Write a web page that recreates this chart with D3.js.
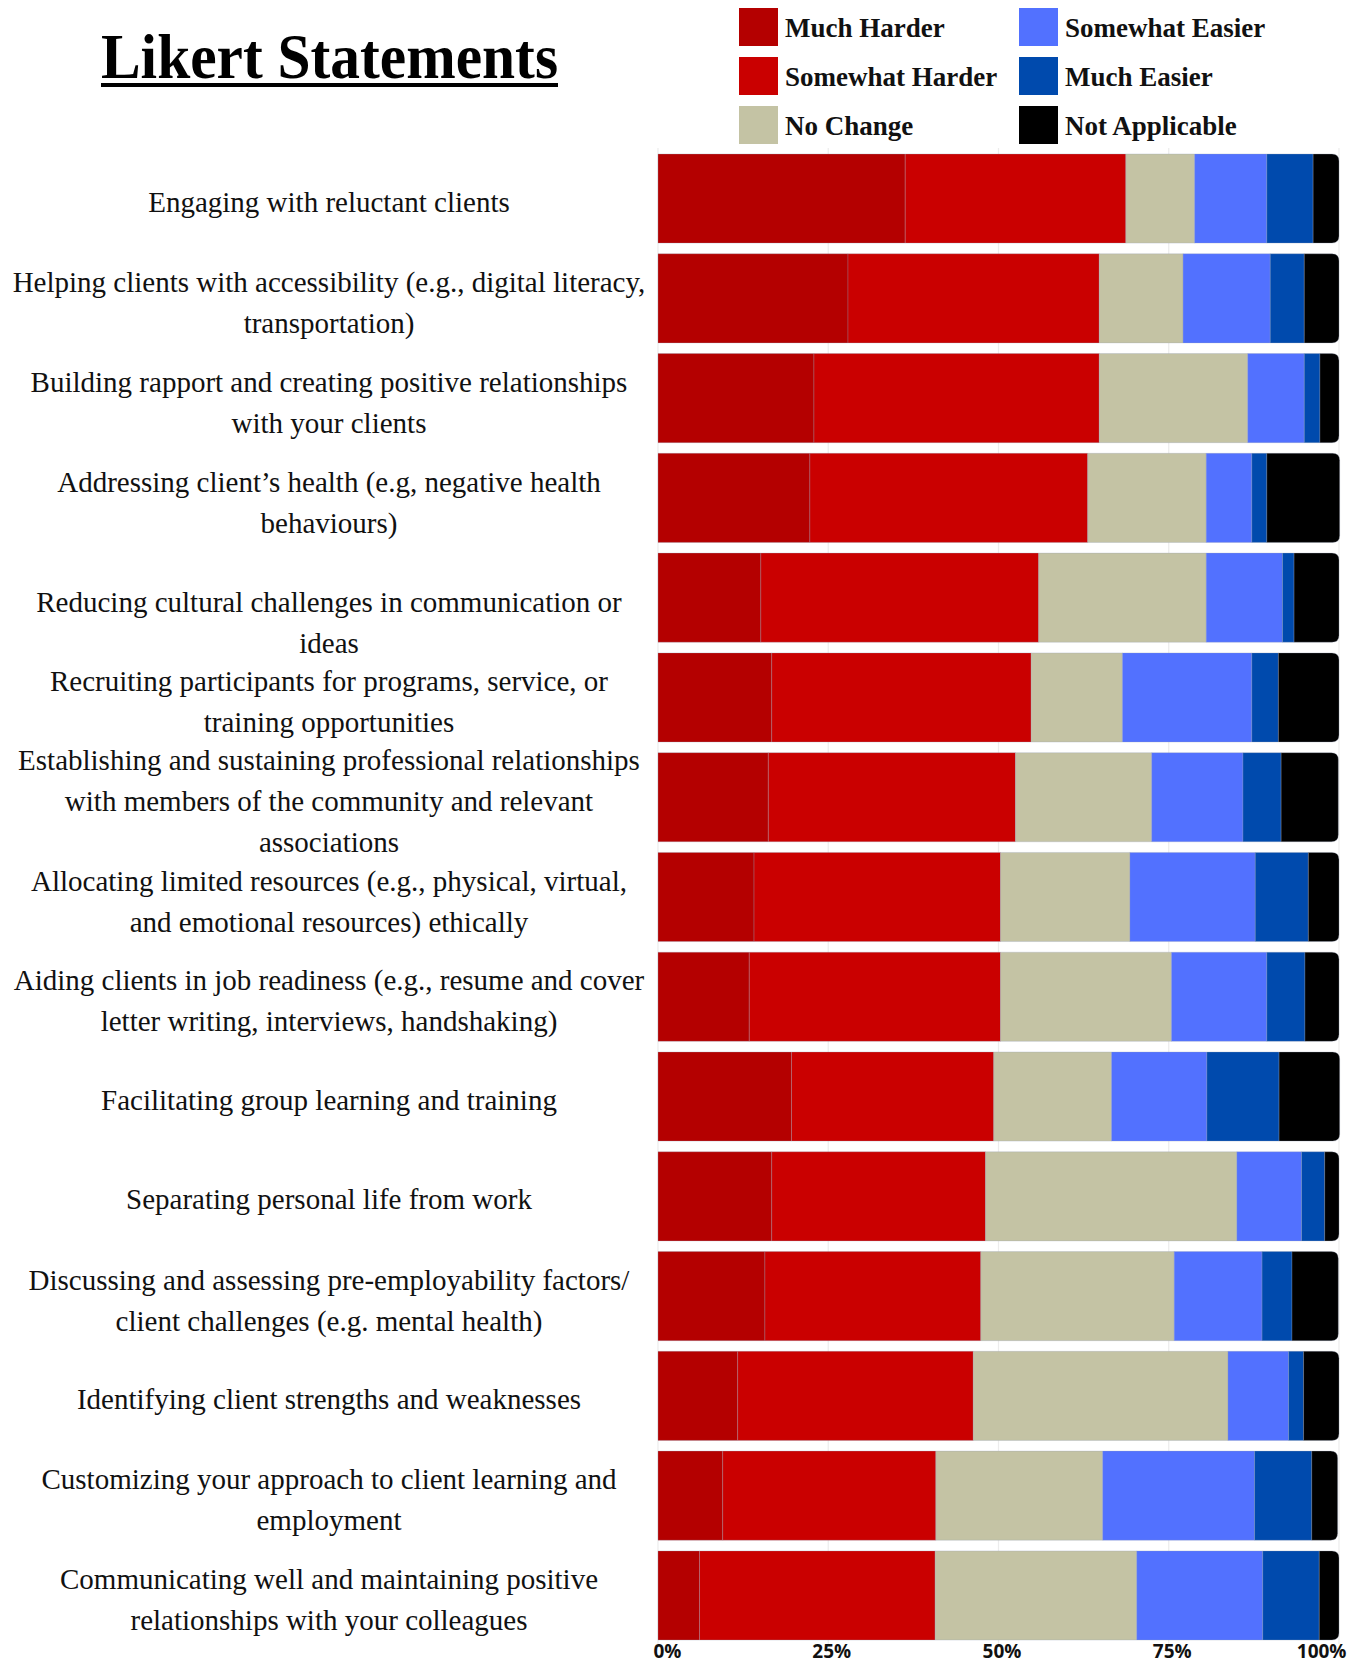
<!DOCTYPE html>
<html>
<head>
<meta charset="utf-8">
<script src="https://cdn.jsdelivr.net/npm/d3@7"></script>
<style>
  body { margin: 0; background: #fff; }
  svg { display: block; }
</style>
</head>
<body>
<div id="chart"></div>
<script>
// statements, each one split in the lines shown on the chart
// (the 5th one starts with an empty line, that is why it sits lower)
const statements = [
  ["Engaging with reluctant clients"],
  ["Helping clients with accessibility (e.g., digital literacy,", "transportation)"],
  ["Building rapport and creating positive relationships", "with your clients"],
  ["Addressing client’s health (e.g, negative health", "behaviours)"],
  ["", "Reducing cultural challenges in communication or", "ideas"],
  ["Recruiting participants for programs, service, or", "training opportunities"],
  ["Establishing and sustaining professional relationships", "with members of the community and relevant", "associations"],
  ["Allocating limited resources (e.g., physical, virtual,", "and emotional resources) ethically"],
  ["Aiding clients in job readiness (e.g., resume and cover", "letter writing, interviews, handshaking)"],
  ["Facilitating group learning and training"],
  ["Separating personal life from work"],
  ["Discussing and assessing pre-employability factors/", "client challenges (e.g. mental health)"],
  ["Identifying client strengths and weaknesses"],
  ["Customizing your approach to client learning and", "employment"],
  ["Communicating well and maintaining positive", "relationships with your colleagues"]
];

const responses = ["Much Harder", "Somewhat Harder", "No Change", "Somewhat Easier", "Much Easier", "Not Applicable"];
const colours = ["#b40000", "#ca0000", "#c4c3a4", "#5271ff", "#004aad", "#000000"];

// percentages per statement
const muchHarder     = [36.3, 27.9, 22.9, 22.3, 15.1, 16.7, 16.2, 14.1, 13.4, 19.6, 16.7, 15.7, 11.7,  9.5,  6.1];
const somewhatHarder = [32.4, 36.9, 41.9, 40.8, 40.8, 38.1, 36.3, 36.2, 36.9, 29.7, 31.4, 31.7, 34.6, 31.3, 34.6];
const noChange       = [10.1, 12.3, 21.8, 17.4, 24.6, 13.4, 20.0, 19.0, 25.1, 17.3, 36.9, 28.4, 37.4, 24.5, 29.6];
const somewhatEasier = [10.6, 12.8,  8.3,  6.7, 11.2, 19.0, 13.4, 18.4, 14.0, 14.0,  9.5, 12.9,  8.9, 22.3, 18.5];
const muchEasier     = [ 6.8,  5.0,  2.3,  2.2,  1.7,  3.9,  5.6,  7.8,  5.6, 10.6,  3.4,  4.4,  2.2,  8.4,  8.3];
const notApplicable  = [ 3.8,  5.1,  2.8, 10.7,  6.6,  8.9,  8.4,  4.5,  5.0,  8.9,  2.1,  6.8,  5.2,  3.8,  2.9];

const tickValues = [0, 25, 50, 75, 100];

const series = [muchHarder, somewhatHarder, noChange, somewhatEasier, muchEasier, notApplicable];

const W = 1358, H = 1662;
const serif = "'Liberation Serif', 'Times New Roman', serif";

const svg = d3.select("#chart").append("svg")
  .attr("width", W)
  .attr("height", H);

// table for the stack
const rows = statements.map((s, i) => {
  const r = { id: i };
  responses.forEach((k, j) => r[k] = series[j][i]);
  return r;
});
const stacked = d3.stack().keys(responses)(rows);

const x = d3.scaleLinear().domain([0, 100]).range([658, 1339]);
const y = d3.scaleBand().domain(d3.range(statements.length)).range([154, 1640]).paddingInner(0.107);
const colour = d3.scaleOrdinal().domain(responses).range(colours);

// grid
svg.append("g")
  .selectAll("line")
  .data(tickValues)
  .join("line")
  .attr("x1", d => x(d)).attr("x2", d => x(d))
  .attr("y1", 148).attr("y2", 1644)
  .attr("stroke", "#ececec")
  .attr("stroke-width", 1.2);

// bars
const r = 7;
const lastKey = responses[responses.length - 1];
svg.append("g")
  .selectAll("g")
  .data(stacked)
  .join("g")
  .attr("fill", d => colour(d.key))
  .each(function(layer) {
    const g = d3.select(this);
    g.selectAll("path")
      .data(layer)
      .join("path")
      .attr("stroke", "rgba(150,160,185,0.5)")
      .attr("stroke-width", 0.6)
      .attr("d", (d, i) => {
        const x0 = x(d[0]), x1 = x(d[1]), y0 = y(i), y1 = y(i) + y.bandwidth();
        if (layer.key !== lastKey) return `M${x0},${y0}H${x1}V${y1}H${x0}Z`;
        const rr = Math.min(r, x1 - x0);
        return `M${x0},${y0}H${x1 - rr}Q${x1},${y0} ${x1},${y0 + rr}V${y1 - rr}Q${x1},${y1} ${x1 - rr},${y1}H${x0}Z`;
      });
  });

// statement labels
const labels = svg.append("g")
  .attr("font-family", serif)
  .attr("font-size", 29)
  .attr("fill", "#111")
  .attr("text-anchor", "middle");

const lh = 41;
statements.forEach((lines, i) => {
  const cy = y(i) + y.bandwidth() / 2 + (lines.length === 1 ? 3 : 4);
  const top = cy - (lines.length - 1) * lh / 2;
  lines.forEach((ln, k) => {
    if (!ln) return;
    labels.append("text")
      .attr("x", 329)
      .attr("y", top + k * lh)
      .attr("dy", "0.35em")
      .text(ln);
  });
});

// x axis
const axis = svg.append("g")
  .attr("transform", "translate(0,1640)")
  .call(d3.axisBottom(x).tickValues(tickValues).tickFormat(d => d + "%").tickSize(0).tickPadding(4));
axis.select(".domain").remove();
axis.selectAll("text")
  .attr("font-family", "'Open Sans', sans-serif")
  .attr("font-weight", 700)
  .attr("font-size", 19)
  .attr("fill", "#111")
  .attr("text-anchor", d => d === 0 ? "start" : d === 100 ? "end" : "middle")
  .attr("dx", d => d === 0 ? -5 : d === 100 ? 7 : 3);

// title
const title = svg.append("text")
  .attr("x", 329.5)
  .attr("y", 78)
  .attr("text-anchor", "middle")
  .attr("font-family", serif)
  .attr("font-weight", 700)
  .attr("font-size", 63)
  .attr("textLength", 457)
  .attr("lengthAdjust", "spacingAndGlyphs")
  .attr("fill", "#000")
  .text("Likert Statements");
svg.append("rect")
  .attr("x", 101).attr("y", 83)
  .attr("width", 457).attr("height", 4)
  .attr("fill", "#000");

// legend
const legend = svg.append("g");
responses.forEach((k, i) => {
  const col = Math.floor(i / 3), row = i % 3;
  const lx = col === 0 ? 739 : 1019;
  const ly = 8 + row * 49;
  legend.append("rect")
    .attr("x", lx).attr("y", ly)
    .attr("width", 39).attr("height", 38)
    .attr("fill", colour(k));
  legend.append("text")
    .attr("x", lx + 46).attr("y", ly + 20)
    .attr("dy", "0.35em")
    .attr("font-family", serif)
    .attr("font-weight", 700)
    .attr("font-size", 27)
    .attr("fill", "#111")
    .text(k);
});
</script>
</body>
</html>
